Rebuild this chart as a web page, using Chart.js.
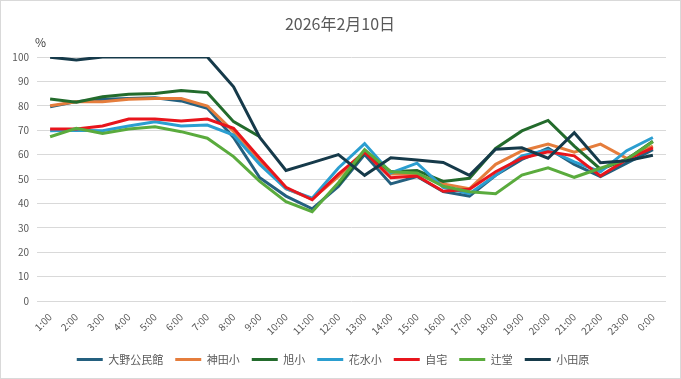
<!DOCTYPE html>
<html>
<head>
<meta charset="utf-8">
<script src="https://cdn.jsdelivr.net/npm/chart.js@4/dist/chart.umd.min.js"></script>
<style>
html,body{margin:0;padding:0;background:#fff;}
#wrap{width:681px;height:379px;position:relative;}
</style>
</head>
<body>
<div id="wrap"><canvas id="c" width="681" height="379"></canvas></div>
<script>
const categories = ['1:00','2:00','3:00','4:00','5:00','6:00','7:00','8:00','9:00','10:00','11:00','12:00','13:00','14:00','15:00','16:00','17:00','18:00','19:00','20:00','21:00','22:00','23:00','0:00'];
const seriesNames = ['大野公民館','神田小','旭小','花水小','自宅','辻堂','小田原'];
const onoKominkan = [79.6, 81.7, 82.7, 83, 83.3, 82, 79, 67, 50.5, 43, 37.8, 47, 60, 48, 51, 44.8, 43, 51.5, 58, 62.6, 56, 51, 56.5, 62];
const kandaSho    = [80, 81.7, 81.7, 82.7, 83, 83, 79.9, 69.5, 57.5, 46, 41.8, 51, 61.5, 52, 52, 48, 46, 56, 61.5, 64.3, 61, 64.3, 58.5, 63.5];
const asahiSho    = [82.8, 81.5, 83.7, 84.7, 85, 86.3, 85.4, 73.5, 67.3, null, null, 47.5, 61, 53, 53.5, 49, 50.3, 62.5, 69.7, 74, 63.5, 54, 58, 65.5];
const hanamizuSho = [69.8, 70, 69.8, 71.7, 73.5, 71.7, 72.1, 68, 56, 46, 42.1, 54.5, 64.5, 52.5, 56.5, 46.6, 44, 51.5, 59.5, 62, 57, 53, 61.6, 67];
const jitaku      = [70.5, 70.5, 71.7, 74.6, 74.6, 73.8, 74.6, 70.8, 58.5, 46.6, 41.5, 52, 61, 50.5, 51.2, 45, 45.8, 53, 58.5, 61.2, 59.5, 51.3, 58, 62.8];
const tsujido     = [67.3, 70.8, 68.7, 70.5, 71.4, 69.4, 66.7, 59.2, 49, 40.7, 36.6, 48.5, 62, 53, 52.5, 47, 44.8, 44, 51.6, 54.6, 50.7, 54.4, 58, 65.3];
const odawara     = [99.9, 98.8, 100, 100, 100, 100, 100, 87.8, 67, 53.5, 56.7, 60, 51.5, 58.7, 57.8, 56.8, 51.5, 62.2, 62.8, 58.5, 69, 56.7, 57.5, 59.7];
const yTicks = [0,10,20,30,40,50,60,70,80,90,100];
const titleText = '2026年2月10日';
const unitText = '%';

const seriesValues = [onoKominkan, kandaSho, asahiSho, hanamizuSho, jitaku, tsujido, odawara];
const colors = ['#24607f','#e57d3c','#236b2c','#2b9ed0','#e8151c','#5aab3d','#163a4a'];

const FONT = "'Noto Sans CJK JP','Noto Sans',sans-serif";
const TXT = '#595959';

const decor = {
  id: 'decor',
  beforeInit(chart) {
    const origFit = chart.legend.fit;
    chart.legend.fit = function() { origFit.call(this); this.height = 30; };
  },
  afterDraw(chart) {
    const ctx = chart.ctx;
    ctx.save();
    ctx.fillStyle = TXT;
    ctx.font = "16px " + FONT;
    ctx.textAlign = 'center';
    ctx.textBaseline = 'middle';
    ctx.fillText(titleText, 340, 24);
    ctx.fillStyle = '#404040';
    ctx.font = "12px " + FONT;
    ctx.textAlign = 'left';
    ctx.fillText(unitText, 35, 42);
    ctx.strokeStyle = '#d9d9d9';
    ctx.lineWidth = 1;
    ctx.strokeRect(0.5, 0.5, 680, 378);
    ctx.restore();
  }
};

const datasets = seriesNames.map((name, i) => ({
  label: name,
  data: seriesValues[i],
  borderColor: colors[i],
  backgroundColor: colors[i],
  borderWidth: 3,
  pointRadius: 0,
  pointHoverRadius: 0,
  pointStyle: 'line',
  tension: 0,
  fill: false,
  spanGaps: false,
  order: seriesNames.length - i
}));

new Chart(document.getElementById('c'), {
  type: 'line',
  data: { labels: categories, datasets },
  plugins: [decor],
  options: {
    responsive: false,
    animation: false,
    devicePixelRatio: 1,
    layout: { padding: { top: 57, right: 15, bottom: 7, left: 0 } },
    plugins: {
      title: { display: false },
      tooltip: { enabled: false },
      legend: {
        position: 'bottom',
        labels: {
          usePointStyle: true,
          pointStyleWidth: 26,
          boxHeight: 3,
          padding: 12,
          color: TXT,
          font: { family: FONT, size: 11 },
          sort: (a, b) => a.datasetIndex - b.datasetIndex
        }
      }
    },
    scales: {
      x: {
        offset: true,
        grid: { display: false },
        border: { display: false },
        ticks: {
          color: TXT,
          font: { family: FONT, size: 10 },
          maxRotation: 45,
          minRotation: 45,
          autoSkip: false,
          padding: 2
        },
        afterFit(scale) { scale.height = 41; }
      },
      y: {
        min: 0,
        max: 100,
        afterBuildTicks(scale) { scale.ticks = yTicks.map(v => ({ value: v })); },
        grid: { color: '#d9d9d9', lineWidth: 1, drawTicks: false },
        border: { display: false },
        ticks: {
          color: TXT,
          font: { family: FONT, size: 10 },
          padding: 8
        },
        afterFit(scale) { scale.width = 37; }
      }
    }
  }
});
</script>
</body>
</html>
